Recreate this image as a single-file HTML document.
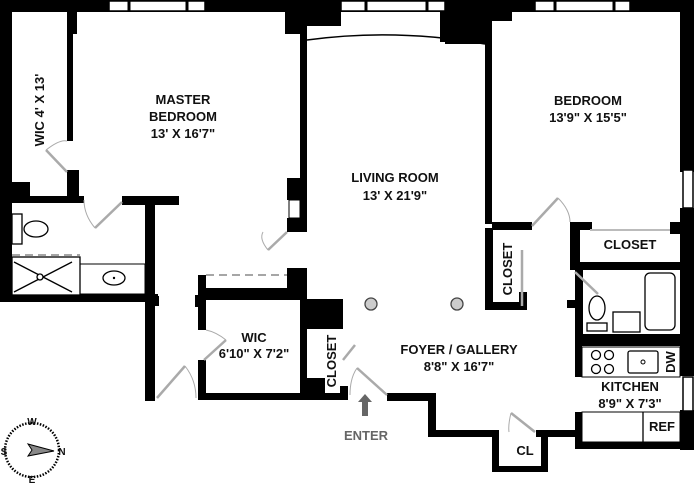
<!DOCTYPE html>
<html><head><meta charset="utf-8"><style>
html,body{margin:0;padding:0;background:#fff}
svg{display:block}
text{font-family:"Liberation Sans",sans-serif;font-weight:bold;font-size:13px;fill:#111;text-anchor:middle}
</style></head><body>
<svg width="694" height="501" viewBox="0 0 694 501" xmlns="http://www.w3.org/2000/svg">
<g fill="#000">
<rect x="0" y="0" width="694" height="12"/>
<rect x="0" y="0" width="12" height="300"/>
<rect x="0" y="182" width="30" height="20"/>
<rect x="67" y="12" width="10" height="22"/>
<rect x="67" y="28" width="6" height="113"/>
<rect x="67" y="170" width="12" height="30"/>
<rect x="0" y="196" width="84" height="7"/>
<rect x="122" y="196" width="57" height="9"/>
<rect x="145" y="196" width="10" height="205"/>
<rect x="0" y="294" width="158" height="8"/>
<rect x="150" y="296" width="9" height="10"/>
<rect x="285" y="12" width="20" height="22"/>
<rect x="300" y="12" width="7" height="220"/>
<rect x="287" y="178" width="18" height="22"/>
<rect x="287" y="218" width="18" height="14"/>
<rect x="440" y="12" width="45" height="30"/>
<rect x="485" y="12" width="7" height="212"/>
<rect x="492" y="12" width="20" height="9"/>
<rect x="680" y="12" width="14" height="160"/>
<rect x="680" y="208" width="14" height="30"/>
<rect x="492" y="222" width="40" height="8"/>
<rect x="570" y="222" width="22" height="8"/>
<rect x="570" y="222" width="10" height="48"/>
<rect x="670" y="222" width="24" height="12"/>
<rect x="575" y="262" width="105" height="8"/>
<rect x="485" y="228" width="8" height="82"/>
<rect x="485" y="302" width="42" height="8"/>
<rect x="519" y="292" width="8" height="18"/>
<rect x="575" y="268" width="8" height="66"/>
<rect x="567" y="300" width="16" height="8"/>
<rect x="575" y="334" width="119" height="12"/>
<rect x="680" y="234" width="14" height="142"/>
<rect x="680" y="410" width="14" height="40"/>
<rect x="575" y="345" width="7" height="32"/>
<rect x="575" y="412" width="7" height="36"/>
<rect x="575" y="442" width="119" height="7"/>
<rect x="387" y="393" width="48" height="8"/>
<rect x="428" y="393" width="8" height="44"/>
<rect x="428" y="430" width="70" height="7"/>
<rect x="536" y="430" width="42" height="7"/>
<rect x="492" y="430" width="7" height="42"/>
<rect x="541" y="430" width="7" height="42"/>
<rect x="492" y="466" width="56" height="6"/>
<rect x="198" y="275" width="8" height="55"/>
<rect x="195" y="295" width="10" height="12"/>
<rect x="198" y="360" width="8" height="40"/>
<rect x="198" y="288" width="108" height="12"/>
<rect x="287" y="268" width="20" height="22"/>
<rect x="300" y="270" width="7" height="130"/>
<rect x="198" y="393" width="150" height="7"/>
<rect x="300" y="299" width="43" height="30"/>
<rect x="300" y="378" width="25" height="20"/>
<rect x="340" y="386" width="8" height="14"/>
</g>
<g fill="#fff" stroke="#000" stroke-width="1.5">
<rect x="109" y="1" width="96" height="10"/>
<rect x="341" y="1" width="104" height="10"/>
<rect x="535" y="1" width="95" height="10"/>
<rect x="683" y="170" width="10" height="38"/>
<rect x="683" y="377" width="10" height="34"/>
</g>
<rect x="289" y="200" width="11" height="18" fill="#fff" stroke="#000" stroke-width="1"/>
<g stroke="#000" stroke-width="3"><line x1="129" y1="0" x2="129" y2="12"/><line x1="187" y1="0" x2="187" y2="12"/>
<line x1="366" y1="0" x2="366" y2="12"/><line x1="427" y1="0" x2="427" y2="12"/>
<line x1="555" y1="0" x2="555" y2="12"/><line x1="614" y1="0" x2="614" y2="12"/></g>
<rect x="307" y="12" width="133" height="26" fill="#fff"/>
<rect x="307" y="12" width="34" height="14" fill="#000"/>
<path d="M307 40 Q395 28 485 44" fill="none" stroke="#000" stroke-width="1.5"/>
<rect x="445" y="12" width="40" height="32" fill="#000"/>
<g fill="none" stroke="#aaa" stroke-width="2.5">
<line x1="46" y1="150" x2="67" y2="172"/>
<line x1="122" y1="202" x2="95" y2="228"/>
<line x1="287" y1="232" x2="268" y2="250"/>
<line x1="157" y1="398" x2="185" y2="366"/>
<line x1="204" y1="360" x2="226" y2="340"/>
<line x1="532" y1="226" x2="558" y2="198"/>
<line x1="522" y1="306" x2="522" y2="250"/>
<line x1="575" y1="272" x2="598" y2="294"/>
<line x1="357" y1="368" x2="387" y2="395"/>
<line x1="343" y1="360" x2="355" y2="345"/>
<line x1="511" y1="413" x2="535" y2="432"/>
</g>
<g fill="none" stroke="#aaa" stroke-width="1">
<path d="M46 150 Q60 139 67 141"/>
<path d="M95 228 Q84 215 84 200"/>
<path d="M268 250 Q259 239 263 232"/>
<path d="M185 366 Q196 380 196 398"/>
<path d="M226 340 Q216 332 206 330"/>
<path d="M558 198 Q570 210 570 222"/>
<path d="M357 368 Q350 378 350 395"/>
<path d="M511 413 Q508 425 509 432"/>
</g>
<g stroke="#888" stroke-width="1.5" stroke-dasharray="8,5" fill="none">
<line x1="12" y1="255" x2="80" y2="255"/><line x1="206" y1="275" x2="287" y2="275"/></g>
<line x1="590" y1="230" x2="670" y2="230" stroke="#bbb" stroke-width="2"/>
<g fill="#fff" stroke="#000" stroke-width="1.3">
<rect x="12" y="214" width="10" height="30"/><ellipse cx="36" cy="229" rx="12" ry="8"/>
<rect x="80" y="264" width="65" height="30" stroke-width="1"/><ellipse cx="114" cy="278" rx="11" ry="7"/>
<rect x="12" y="257" width="68" height="38"/>
<rect x="645" y="273" width="30" height="57" rx="5"/>
<rect x="613" y="312" width="27" height="20"/>
<ellipse cx="597" cy="308" rx="8" ry="12"/><rect x="587" y="323" width="20" height="8"/>
<rect x="582" y="347" width="98" height="30" stroke-width="1"/>
<circle cx="596" cy="355" r="4.5"/><circle cx="609" cy="355" r="4.5"/><circle cx="596" cy="369" r="4.5"/><circle cx="609" cy="369" r="4.5"/>
<rect x="628" y="351" width="30" height="22" rx="2"/>
<rect x="582" y="412" width="98" height="30" stroke-width="1"/><line x1="643" y1="412" x2="643" y2="442"/>
<line x1="14" y1="262" x2="72" y2="292"/><line x1="14" y1="292" x2="72" y2="262"/><circle cx="40" cy="277" r="3"/>
</g>
<circle cx="114" cy="278" r="1.2"/><circle cx="643" cy="362" r="2" fill="none" stroke="#000"/>
<circle cx="371" cy="304" r="6" fill="#ccc" stroke="#444" stroke-width="1.3"/>
<circle cx="457" cy="304" r="6" fill="#ccc" stroke="#444" stroke-width="1.3"/>
<path d="M362 416 L362 402 L358 402 L365 394 L372 402 L368 402 L368 416 Z" fill="#666"/>
<text x="183" y="104">MASTER</text><text x="183" y="121">BEDROOM</text><text x="183" y="138">13' X 16'7"</text>
<text transform="translate(44,110) rotate(-90)" >WIC 4' X 13'</text>
<text x="395" y="182">LIVING ROOM</text><text x="395" y="200">13' X 21'9"</text>
<text x="588" y="105">BEDROOM</text><text x="588" y="122">13'9" X 15'5"</text>
<text x="630" y="249">CLOSET</text>
<text transform="translate(512,269) rotate(-90)">CLOSET</text>
<text x="254" y="342">WIC</text><text x="254" y="358">6'10" X 7'2"</text>
<text transform="translate(336,361) rotate(-90)">CLOSET</text>
<text x="459" y="354">FOYER / GALLERY</text><text x="459" y="371">8'8" X 16'7"</text>
<text x="630" y="391">KITCHEN</text><text x="630" y="408">8'9" X 7'3"</text>
<text x="662" y="431">REF</text><text x="525" y="455">CL</text>
<text transform="translate(675,362) rotate(-90)">DW</text>
<text x="366" y="440" style="fill:#666">ENTER</text>
<circle cx="32" cy="450" r="27" fill="none" stroke="#000" stroke-width="2.5" stroke-dasharray="1.5,1.5"/>
<path d="M28 444 L54 451 L28 456 L32 450 Z" fill="#888" stroke="#000" stroke-width="1"/>
<text x="32" y="425" style="font-size:10px">W</text><text x="32" y="483" style="font-size:10px">E</text>
<text x="62" y="455" style="font-size:10px">N</text><text x="4" y="455" style="font-size:10px">S</text>
</svg>
</body></html>
